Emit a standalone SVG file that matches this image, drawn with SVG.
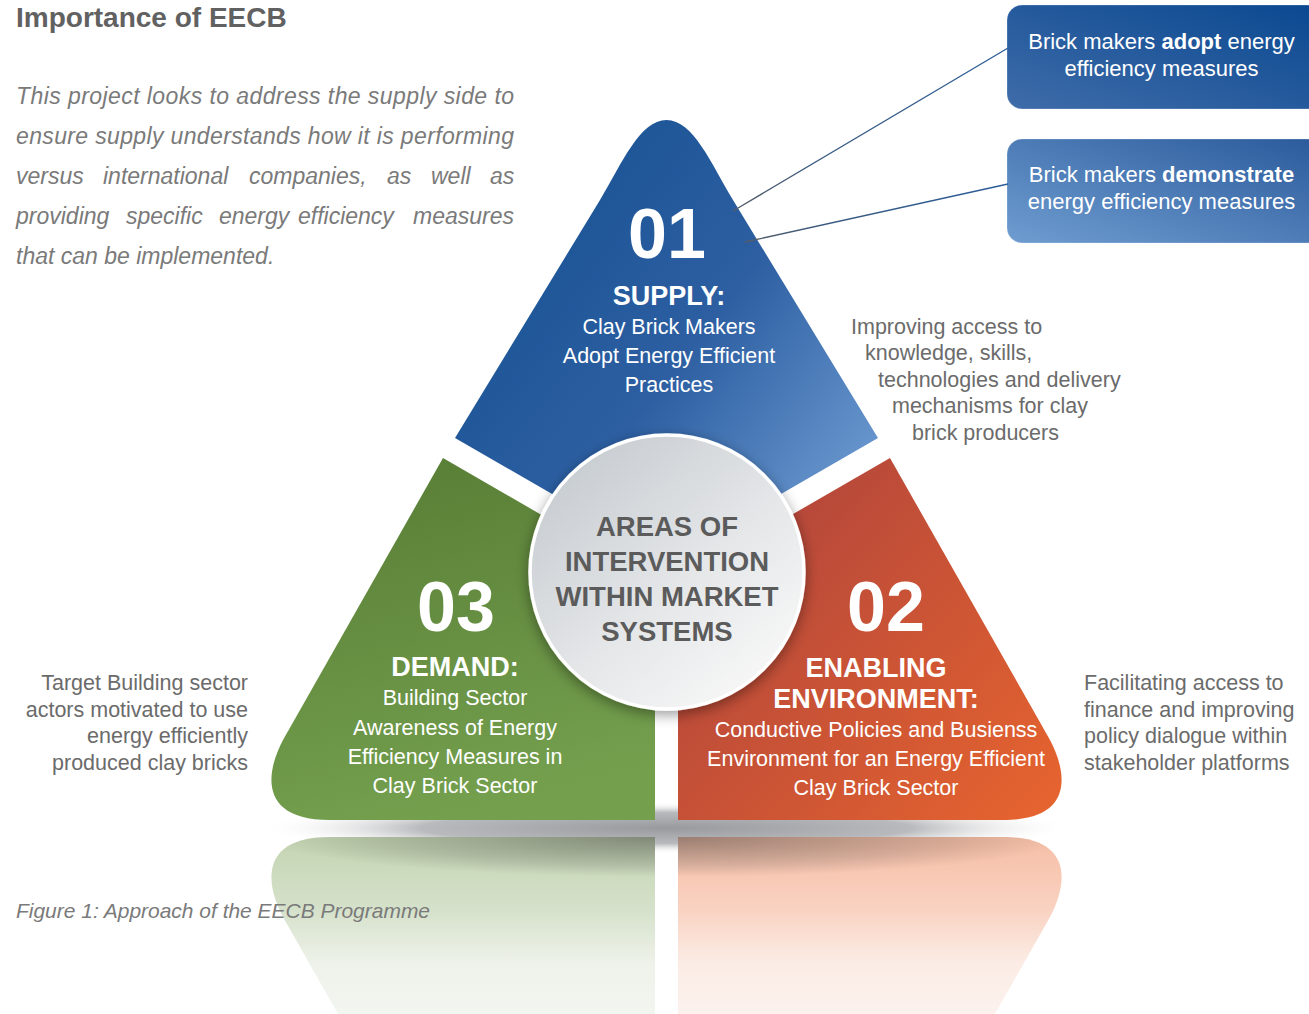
<svg xmlns="http://www.w3.org/2000/svg" width="1309" height="1014" viewBox="0 0 1309 1014">
<defs>
<style>
text{font-family:"Liberation Sans",Arial,Helvetica,sans-serif}
.head{font-size:28px;font-weight:bold;fill:#616161}
.para{font-size:23px;font-style:italic;fill:#7a7a7a}
.side{font-size:21.5px;fill:#6b6b6b}
.num{font-size:70px;font-weight:bold;fill:#fff;text-anchor:middle}
.ttl{font-size:27px;font-weight:bold;fill:#fff;text-anchor:middle}
.body{font-size:21.5px;fill:#fff;text-anchor:middle}
.ctr{font-size:27.5px;font-weight:bold;fill:#5b5b5b;text-anchor:middle}
.box{font-size:22px;fill:#fff;text-anchor:middle}
.cap{font-size:21px;font-style:italic;fill:#7a7a7a}
.conn{fill:none;stroke-width:1.3}
</style>
<linearGradient id="gBlue" gradientUnits="userSpaceOnUse" x1="560" y1="230" x2="870" y2="470">
<stop offset="0" stop-color="#1e5698"/><stop offset="0.45" stop-color="#2d5fa2"/><stop offset="1" stop-color="#6a98cf"/>
</linearGradient>
<linearGradient id="gGreen" gradientUnits="userSpaceOnUse" x1="440" y1="460" x2="520" y2="800">
<stop offset="0" stop-color="#5a7f37"/><stop offset="1" stop-color="#74a04e"/>
</linearGradient>
<linearGradient id="gOrange" gradientUnits="userSpaceOnUse" x1="740" y1="520" x2="1050" y2="800">
<stop offset="0" stop-color="#b3463b"/><stop offset="1" stop-color="#e5632f"/>
</linearGradient>
<linearGradient id="gCircle" x1="0.15" y1="0.1" x2="0.85" y2="0.9">
<stop offset="0" stop-color="#c8cdd2"/><stop offset="0.55" stop-color="#e4e6e8"/><stop offset="1" stop-color="#f7f7f7"/>
</linearGradient>
<linearGradient id="gBox1" x1="0" y1="1" x2="1" y2="0">
<stop offset="0" stop-color="#3f6ca9"/><stop offset="1" stop-color="#0a4890"/>
</linearGradient>
<linearGradient id="gBox2" x1="0" y1="1" x2="1" y2="0">
<stop offset="0" stop-color="#6f9dd1"/><stop offset="1" stop-color="#2a5a9b"/>
</linearGradient>
<linearGradient id="gRefG" gradientUnits="userSpaceOnUse" x1="0" y1="820" x2="0" y2="640">
<stop offset="0" stop-color="#c3d4b1"/><stop offset="0.4" stop-color="#d5e1ca"/><stop offset="0.7" stop-color="#eef2ea"/><stop offset="1" stop-color="#f3f6f0"/>
</linearGradient>
<linearGradient id="gRefO" gradientUnits="userSpaceOnUse" x1="0" y1="820" x2="0" y2="640">
<stop offset="0" stop-color="#f6bea5"/><stop offset="0.4" stop-color="#f9d2c1"/><stop offset="0.7" stop-color="#fbece5"/><stop offset="1" stop-color="#fcf2ee"/>
</linearGradient>
<radialGradient id="gRefShade" gradientUnits="userSpaceOnUse" cx="666" cy="820" r="400" gradientTransform="translate(0,820) scale(1,0.1) translate(0,-820)">
<stop offset="0" stop-color="#3c3c3c" stop-opacity="0.5"/><stop offset="0.7" stop-color="#3c3c3c" stop-opacity="0.18"/><stop offset="1" stop-color="#3c3c3c" stop-opacity="0"/>
</radialGradient>
<radialGradient id="gBand" cx="0.5" cy="0.5" r="0.5">
<stop offset="0" stop-color="#999a9e"/><stop offset="0.6" stop-color="#b9babd"/><stop offset="1" stop-color="#ffffff" stop-opacity="0"/>
</radialGradient>
<linearGradient id="gLine1" gradientUnits="userSpaceOnUse" x1="1008" y1="48" x2="733" y2="211">
<stop offset="0" stop-color="#2a5c98"/><stop offset="0.7" stop-color="#3a5a80"/><stop offset="1" stop-color="#555c66"/>
</linearGradient>
<linearGradient id="gLine2" gradientUnits="userSpaceOnUse" x1="1008" y1="184" x2="745" y2="242">
<stop offset="0" stop-color="#2a5c98"/><stop offset="0.7" stop-color="#3a5a80"/><stop offset="1" stop-color="#555c66"/>
</linearGradient>
<filter id="fShadow" x="-20%" y="-20%" width="140%" height="140%">
<feGaussianBlur in="SourceAlpha" stdDeviation="7"/>
<feOffset dx="0" dy="4" result="b"/>
<feComponentTransfer><feFuncA type="linear" slope="0.4"/></feComponentTransfer>
<feMerge><feMergeNode/><feMergeNode in="SourceGraphic"/></feMerge>
</filter>
</defs>

<rect width="1309" height="1014" fill="#ffffff"/>

<g id="intro">
<text class="head" x="16" y="27">Importance of EECB</text>
<text class="para" x="16" y="104" textLength="498" lengthAdjust="spacing">This project looks to address the supply side to</text>
<text class="para" x="16" y="144" textLength="498" lengthAdjust="spacing">ensure supply understands how it is performing</text>
<text class="para" y="184"><tspan x="16">versus</tspan><tspan x="103">international</tspan><tspan x="249">companies,</tspan><tspan x="387">as</tspan><tspan x="431">well</tspan><tspan x="490">as</tspan></text>
<text class="para" y="224"><tspan x="16">providing</tspan><tspan x="126">specific</tspan><tspan x="219">energy</tspan><tspan x="298">efficiency</tspan><tspan x="413">measures</tspan></text>
<text class="para" x="16" y="264">that can be implemented.</text>
</g>

<g id="reflection">
<ellipse cx="666" cy="828" rx="410" ry="26" fill="url(#gBand)"/>
<g transform="matrix(1,0,0,-1,0,1657)">
<path d="M443,458 L655,580.5 L655,820 L330,820 C258,820 266,772 283,740 Z" fill="url(#gRefG)"/>
<path d="M443,458 L655,580.5 L655,820 L330,820 C258,820 266,772 283,740 Z" fill="url(#gRefShade)"/>
<path d="M890,458 L678,580.5 L678,820 L1003,820 C1075,820 1067,772 1050,740 Z" fill="url(#gRefO)"/>
<path d="M890,458 L678,580.5 L678,820 L1003,820 C1075,820 1067,772 1050,740 Z" fill="url(#gRefShade)"/>
</g>
</g>

<g id="node-supply">
<path d="M455,438 L600,200 C622,163 640,120 666.5,120 C693,120 711,163 733,200 L878,438 L666.5,560 Z" fill="url(#gBlue)"/>
<text class="num" x="667" y="258">01</text>
<text class="ttl" x="669" y="305">SUPPLY:</text>
<text class="body" x="669" y="334">Clay Brick Makers</text>
<text class="body" x="669" y="363">Adopt Energy Efficient</text>
<text class="body" x="669" y="392">Practices</text>
</g>

<g id="node-demand">
<path d="M443,458 L655,580.5 L655,820 L330,820 C258,820 266,772 283,740 Z" fill="url(#gGreen)"/>
<text class="num" x="456" y="631">03</text>
<text class="ttl" x="455" y="676">DEMAND:</text>
<text class="body" x="455" y="705">Building Sector</text>
<text class="body" x="455" y="735">Awareness of Energy</text>
<text class="body" x="455" y="764">Efficiency Measures in</text>
<text class="body" x="455" y="793">Clay Brick Sector</text>
</g>

<g id="node-enabling">
<path d="M890,458 L678,580.5 L678,820 L1003,820 C1075,820 1067,772 1050,740 Z" fill="url(#gOrange)"/>
<text class="num" x="886" y="631">02</text>
<text class="ttl" x="876" y="677">ENABLING</text>
<text class="ttl" x="876" y="708">ENVIRONMENT:</text>
<text class="body" x="876" y="737">Conductive Policies and Busienss</text>
<text class="body" x="876" y="766">Environment for an Energy Efficient</text>
<text class="body" x="876" y="795">Clay Brick Sector</text>
</g>

<g id="node-center">
<circle cx="667" cy="572" r="137" fill="url(#gCircle)" stroke="#ffffff" stroke-width="3.5" filter="url(#fShadow)"/>
<text class="ctr" x="667" y="536">AREAS OF</text>
<text class="ctr" x="667" y="571">INTERVENTION</text>
<text class="ctr" x="667" y="606">WITHIN MARKET</text>
<text class="ctr" x="667" y="641">SYSTEMS</text>
</g>

<g id="node-box-adopt">
<rect x="1007" y="5" width="315" height="104" rx="15" fill="url(#gBox1)" stroke="#ffffff" stroke-opacity="0.25"/>
<text class="box" x="1161.5" y="49">Brick makers <tspan font-weight="bold">adopt</tspan> energy</text>
<text class="box" x="1161.5" y="76">efficiency measures</text>
</g>

<g id="node-box-demonstrate">
<rect x="1007" y="139" width="315" height="104" rx="15" fill="url(#gBox2)" stroke="#ffffff" stroke-opacity="0.25"/>
<text class="box" x="1161.5" y="182">Brick makers <tspan font-weight="bold">demonstrate</tspan></text>
<text class="box" x="1161.5" y="209">energy efficiency measures</text>
</g>

<g id="connectors">
<line class="conn" x1="1008" y1="48" x2="733" y2="211" stroke="url(#gLine1)"/>
<line class="conn" x1="1008" y1="184" x2="745" y2="242" stroke="url(#gLine2)"/>
</g>

<g id="label-supply-outcome">
<text class="side" x="851" y="334">Improving access to</text>
<text class="side" x="865" y="360">knowledge, skills,</text>
<text class="side" x="878" y="387">technologies and delivery</text>
<text class="side" x="892" y="413">mechanisms for clay</text>
<text class="side" x="912" y="440">brick producers</text>
</g>

<g id="label-demand-outcome">
<text class="side" x="248" y="690" text-anchor="end">Target Building sector</text>
<text class="side" x="248" y="717" text-anchor="end">actors motivated to use</text>
<text class="side" x="248" y="743" text-anchor="end">energy efficiently</text>
<text class="side" x="248" y="770" text-anchor="end">produced clay bricks</text>
</g>

<g id="label-enabling-outcome">
<text class="side" x="1084" y="690">Facilitating access to</text>
<text class="side" x="1084" y="717">finance and improving</text>
<text class="side" x="1084" y="743">policy dialogue within</text>
<text class="side" x="1084" y="770">stakeholder platforms</text>
</g>

<g id="caption">
<text class="cap" x="16" y="918" textLength="414" lengthAdjust="spacingAndGlyphs">Figure 1: Approach of the EECB Programme</text>
</g>
</svg>
